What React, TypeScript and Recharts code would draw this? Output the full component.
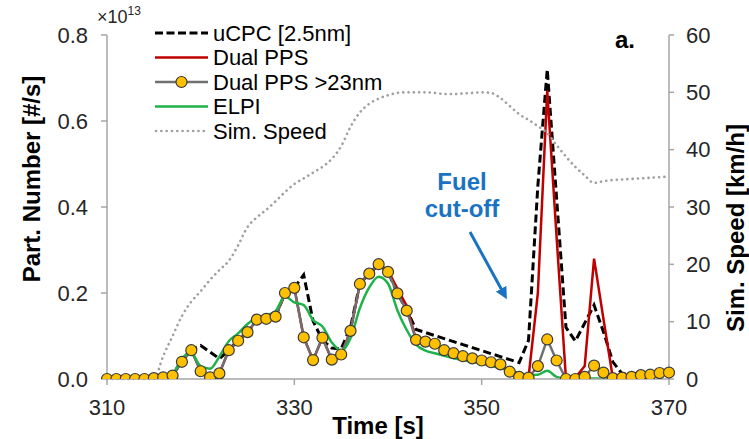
import React from 'react';
import { LineChart, Line, XAxis, YAxis, Legend } from 'recharts';

// Time [s]
const times = [
  310, 311, 312, 313, 314, 315, 316, 317, 318, 319,
  320, 321, 322, 323, 324, 325, 326, 327, 328, 329,
  330, 331, 332, 333, 334, 335, 336, 337, 338, 339,
  340, 341, 342, 343, 344, 345, 346, 347, 348, 349,
  350, 351, 352, 353, 354, 355, 356, 357, 358, 359,
  360, 361, 362, 363, 364, 365, 366, 367, 368, 369,
  370,
];

// Part. number [x1e13 #/s]
const ucpc = [
  0, 0, 0, 0, 0, 0.002, 0.005, 0.008, 0.045, 0.068,
  0.078, 0.063, 0.047, 0.067, 0.09, 0.108, 0.137, 0.14, 0.145, 0.2,
  0.212, 0.242, 0.135, 0.09, 0.072, 0.07, 0.12, 0.222, 0.245, 0.266,
  0.25, 0.2, 0.16, 0.115, 0.108, 0.101, 0.094, 0.087, 0.08, 0.073,
  0.066, 0.059, 0.052, 0.045, 0.038, 0.09, 0.45, 0.72, 0.42, 0.12,
  0.088, 0.13, 0.172, 0.11, 0.04, 0.012, 0.012, 0.013, 0.014, 0.016,
  0.017,
];

const dualPps = [
  0, 0, 0, 0, 0, 0.002, 0.005, 0.008, 0.04, 0.067,
  0.019, 0.003, 0.013, 0.067, 0.09, 0.109, 0.138, 0.14, 0.145, 0.2,
  0.212, 0.097, 0.044, 0.096, 0.045, 0.057, 0.112, 0.221, 0.245, 0.267,
  0.252, 0.21, 0.17, 0.091, 0.087, 0.082, 0.067, 0.06, 0.053, 0.048,
  0.043, 0.039, 0.034, 0.017, 0.005, 0.003, 0.2, 0.67, 0.33, 0.0,
  0.003, 0.03, 0.28, 0.14, 0.003, 0.003, 0.005, 0.009, 0.01, 0.014,
  0.015,
];

const dualPps23 = [
  0, 0, 0, 0, 0, 0.002, 0.004, 0.008, 0.04, 0.067,
  0.018, 0.004, 0.013, 0.067, 0.089, 0.109, 0.138, 0.14, 0.145, 0.2,
  0.212, 0.097, 0.044, 0.096, 0.045, 0.057, 0.112, 0.221, 0.245, 0.267,
  0.249, 0.199, 0.159, 0.091, 0.087, 0.082, 0.067, 0.06, 0.053, 0.048,
  0.043, 0.039, 0.034, 0.017, 0.005, 0.003, 0.03, 0.092, 0.043, 0.0,
  0.0, 0.005, 0.031, 0.015, 0.002, 0.003, 0.005, 0.009, 0.01, 0.014,
  0.015,
];

const elpi = [
  0.003, 0.003, 0.003, 0.003, 0.003, 0.004, 0.005, 0.012, 0.048, 0.06,
  0.03, 0.024, 0.052, 0.088, 0.106, 0.128, 0.142, 0.148, 0.158, 0.192,
  0.178, 0.172, 0.137, 0.122, 0.085, 0.066, 0.095, 0.165, 0.213, 0.238,
  0.222, 0.16, 0.114, 0.08, 0.066, 0.06, 0.054, 0.048, 0.044, 0.04,
  0.036, 0.031, 0.025, 0.019, 0.014, 0.009, 0.01, 0.019, 0.005, 0.001,
  0.001, 0.001, 0.001, 0.001, 0.001, 0.002, 0.003, 0.005, 0.008, 0.01,
  0.012,
];

// Sim. speed [km/h]
const speed = [
  0, 0, 0, 0, 0, 0, 4, 7.5, 11, 13.5,
  15.3, 17.3, 19, 20.6, 23.3, 26.5, 28.2, 29.5, 31, 32.6,
  34, 35, 36, 37, 38.4, 40.6, 44, 46.5, 48, 48.9,
  49.5, 49.9, 50, 50, 50, 49.9, 49.7, 49.7, 49.8, 49.9,
  50, 49.9, 49, 47.6, 46.2, 45.2, 44.1, 42.9, 40.8, 38.8,
  37, 35.5, 34.2, 34.5, 34.7, 34.8, 34.9, 35, 35.1, 35.2,
  35.3,
];

const xTicks = [310, 330, 350, 370];
const leftTicks = [0, 0.2, 0.4, 0.6, 0.8];
const rightTicks = [0, 10, 20, 30, 40, 50, 60];

const legendLabels = ['uCPC [2.5nm]', 'Dual PPS', 'Dual PPS >23nm', 'ELPI', 'Sim. Speed'];

const data = times.map((t, i) => ({
  t,
  ucpc: ucpc[i],
  dualPps: dualPps[i],
  dualPps23: dualPps23[i],
  elpi: elpi[i],
  speed: speed[i],
}));

const FONT = '"Liberation Sans", Arial, sans-serif';
const AXIS = '#a6a6a6';
const TXT = '#262626';
const RED = '#c00000';
const GREEN = '#1fb24a';
const GREY = '#707070';
const SPEED = '#a0a0a0';
const GOLD = '#ffc000';
const BLUE = '#1a73c2';

function renderLegend() {
  const rowH = 24.5;
  return (
    <svg width={270} height={130} style={{ overflow: 'visible' }}>
      {legendLabels.map((label, i) => {
        const y = 12 + i * rowH;
        let swatch: React.ReactNode = null;
        if (i === 0) swatch = <line x1={5} x2={58} y1={y} y2={y} stroke="#000" strokeWidth={3} strokeDasharray="8 3.5" />;
        if (i === 1) swatch = <line x1={5} x2={58} y1={y} y2={y} stroke={RED} strokeWidth={2.5} />;
        if (i === 2)
          swatch = (
            <g>
              <line x1={5} x2={58} y1={y} y2={y} stroke={GREY} strokeWidth={2.5} />
              <circle cx={31.5} cy={y} r={5.5} fill={GOLD} stroke="#3a3a3a" strokeWidth={1.2} />
            </g>
          );
        if (i === 3) swatch = <line x1={5} x2={58} y1={y} y2={y} stroke={GREEN} strokeWidth={2.5} />;
        if (i === 4)
          swatch = (
            <line x1={6} x2={58} y1={y} y2={y} stroke={SPEED} strokeWidth={2.6} strokeDasharray="0.1 5.2" strokeLinecap="round" />
          );
        return (
          <g key={label}>
            {swatch}
            <text x={63} y={y} dy="0.36em" fontSize={22} fontFamily={FONT} fill="#000">
              {label}
            </text>
          </g>
        );
      })}
    </svg>
  );
}

export default function App() {
  return (
    <div style={{ position: 'absolute', left: 0, top: 0, width: 749, height: 439, background: '#fff' }}>
      <LineChart
        width={749}
        height={439}
        data={data}
        margin={{ top: 35, right: 20, bottom: 20, left: 47 }}
        style={{ fontFamily: FONT }}
      >
        <XAxis
          dataKey="t"
          type="number"
          domain={[310, 370]}
          ticks={xTicks}
          height={40}
          stroke={AXIS}
          strokeWidth={1.5}
          tickSize={6}
          tickMargin={14}
          tick={{ fontSize: 22, fill: TXT, fontFamily: FONT }}
          tickLine={{ stroke: AXIS, strokeWidth: 1.5 }}
        />
        <YAxis
          yAxisId="left"
          domain={[0, 0.8]}
          ticks={leftTicks}
          width={60}
          stroke={AXIS}
          strokeWidth={1.5}
          tickSize={6}
          tickMargin={13}
          tickFormatter={(v: number) => v.toFixed(1)}
          tick={{ fontSize: 22, fill: TXT, fontFamily: FONT }}
          tickLine={{ stroke: AXIS, strokeWidth: 1.5 }}
          allowDataOverflow
        />
        <YAxis
          yAxisId="right"
          orientation="right"
          domain={[0, 60]}
          ticks={rightTicks}
          width={60}
          stroke={AXIS}
          strokeWidth={1.5}
          tickSize={5}
          tickMargin={12}
          tick={{ fontSize: 22, fill: TXT, fontFamily: FONT }}
          tickLine={{ stroke: AXIS, strokeWidth: 1.5 }}
        />
        <Legend
          layout="vertical"
          align="center"
          verticalAlign="middle"
          content={renderLegend}
          wrapperStyle={{ left: 150, top: 21, width: 270, height: 130 }}
        />
        <Line
          yAxisId="left"
          dataKey="ucpc"
          type="linear"
          stroke="#000"
          strokeWidth={3}
          strokeDasharray="8 4"
          dot={false}
          isAnimationActive={false}
        />
        <Line
          yAxisId="left"
          dataKey="dualPps"
          type="linear"
          stroke={RED}
          strokeWidth={2.5}
          dot={false}
          isAnimationActive={false}
        />
        <Line
          yAxisId="left"
          dataKey="dualPps23"
          type="linear"
          stroke={GREY}
          strokeWidth={2.5}
          dot={{ r: 5.5, fill: GOLD, stroke: '#3a3a3a', strokeWidth: 1.2 }}
          isAnimationActive={false}
        />
        <Line
          yAxisId="left"
          dataKey="elpi"
          type="monotone"
          stroke={GREEN}
          strokeWidth={2.5}
          dot={false}
          isAnimationActive={false}
        />
        <Line
          yAxisId="right"
          dataKey="speed"
          type="monotone"
          stroke={SPEED}
          strokeWidth={2.6}
          strokeDasharray="0.1 5.2"
          strokeLinecap="round"
          dot={false}
          isAnimationActive={false}
        />
      </LineChart>
      <svg
        width={749}
        height={439}
        style={{ position: 'absolute', left: 0, top: 0, pointerEvents: 'none' }}
      >
        <defs>
          <marker id="arrowHead" markerWidth="4" markerHeight="4" refX="2" refY="2" orient="auto" markerUnits="strokeWidth">
            <path d="M0,0 L4,2 L0,4 Z" fill={BLUE} />
          </marker>
        </defs>
        <text x={97} y={23} fontSize={18} fontFamily={FONT} fill={TXT}>
          ×10<tspan fontSize={12} dy={-8}>13</tspan>
        </text>
        <text x={625} y={48} textAnchor="middle" fontSize={24} fontWeight="bold" fontFamily={FONT} fill="#000">
          a.
        </text>
        <text x={462} y={190} textAnchor="middle" fontSize={24} fontWeight="bold" fontFamily={FONT} fill={BLUE}>
          Fuel
        </text>
        <text x={462} y={217} textAnchor="middle" fontSize={24} fontWeight="bold" fontFamily={FONT} fill={BLUE}>
          cut-off
        </text>
        <line x1={470} y1={232} x2={504} y2={294} stroke={BLUE} strokeWidth={3} markerEnd="url(#arrowHead)" />
        <text
          transform="translate(31,179) rotate(-90)"
          textAnchor="middle"
          dy="0.36em"
          fontSize={24}
          fontWeight="bold"
          fontFamily={FONT}
          fill="#000"
        >
          Part. Number [#/s]
        </text>
        <text
          transform="translate(735,228) rotate(-90)"
          textAnchor="middle"
          dy="0.36em"
          fontSize={24}
          fontWeight="bold"
          fontFamily={FONT}
          fill="#000"
        >
          Sim. Speed [km/h]
        </text>
        <text x={378} y={434} textAnchor="middle" fontSize={24} fontWeight="bold" fontFamily={FONT} fill="#000">
          Time [s]
        </text>
      </svg>
    </div>
  );
}
